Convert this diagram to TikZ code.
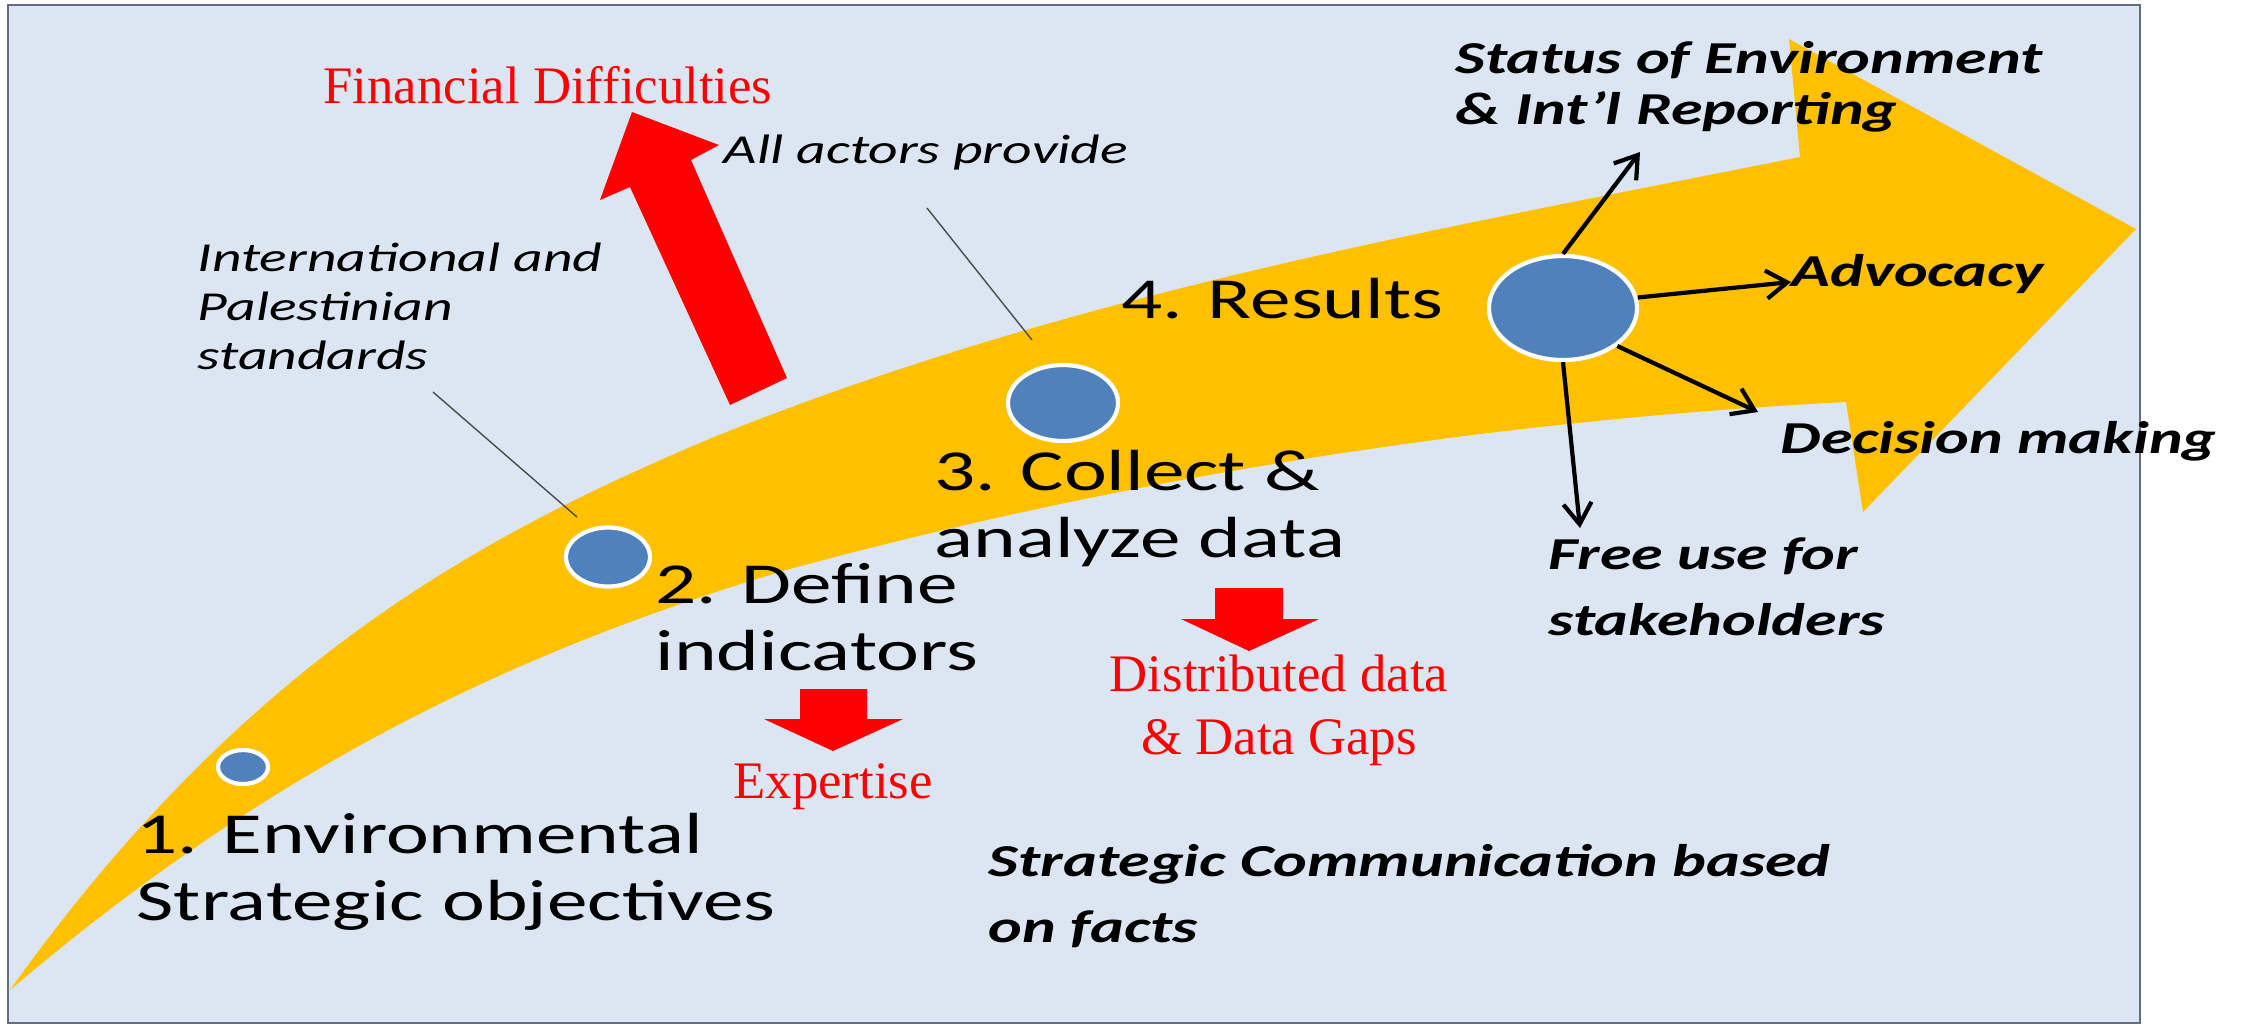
\documentclass[tikz,border=0pt]{standalone}
\usepackage{fontspec}
\usepackage{xcolor}
\usepackage{tikz}
\usetikzlibrary{arrows.meta, positioning, shapes.geometric}
\newfontfamily\stepfont{Carlito}[FakeStretch=1.4]
\newfontfamily\redfont{Liberation Serif}
\definecolor{mygold}{RGB}{255, 192, 0}
\definecolor{myblue}{RGB}{79, 129, 189}
\definecolor{myred}{RGB}{255, 0, 0}
\definecolor{mybg}{RGB}{220, 230, 242}
\definecolor{myframe}{RGB}{95, 110, 130}

\begin{document}
\begin{tikzpicture}[x=0.01cm, y=-0.01cm,
    dot/.style={ellipse, draw=white, line width=1.2pt, fill=myblue, inner sep=0},
    steplabel/.style={inner sep=0, anchor=base west, align=left, font=\stepfont\fontsize{16.5}{19}\selectfont},
    note/.style={inner sep=0, anchor=base west, align=left, font=\stepfont\itshape\fontsize{11.7}{13.9}\selectfont},
    outcome/.style={inner sep=0, anchor=base west, align=left, font=\stepfont\bfseries\itshape\fontsize{13}{14.5}\selectfont},
    problem/.style={inner sep=0, anchor=base, align=center, text=myred, font=\redfont\fontsize{15}{17.9}\selectfont},
    outarrow/.style={-{Straight Barb[length=6pt, width=8pt]}, line width=1.2pt},
    leader/.style={black!70, line width=0.4pt}]
    \useasboundingbox (0,0) rectangle (2244,1026);

    % 背景
    \fill[mybg] (8,5) rectangle (2140,1023);
    \draw[myframe, line width=0.6pt] (8,5) rectangle (2140,1023);

    % 黄色大箭头
    \fill[mygold] (10,990) .. controls (245,661) and (479,536) .. (714,437)
        .. controls (1074,292) and (1440,229) .. (1800,157)
        -- (1789,39) -- (2136,229) -- (1863,512) -- (1846,402)
        .. controls (1496,420) and (1136,475) .. (786,570)
        .. controls (526,648) and (280,760) .. (10,990) -- cycle;

    % 引线
    \coordinate (n2a) at (433,392);
    \coordinate (n2b) at (577,517);
    \coordinate (n3a) at (927,208);
    \coordinate (n3b) at (1032,340);
    \draw[leader] (n2a) -- (n2b);
    \draw[leader] (n3a) -- (n3b);

    % 圆点
    \node[dot, minimum width=0.50cm, minimum height=0.34cm] (c1) at (243,767) {};
    \node[dot, minimum width=0.84cm, minimum height=0.59cm] (c2) at (608,557) {};
    \node[dot, minimum width=1.10cm, minimum height=0.76cm] (c3) at (1063,403) {};
    \node[dot, minimum width=1.48cm, minimum height=1.04cm] (c4) at (1563,308) {};

    % 步骤 (base = 末行基线)
    \node[steplabel] (s1) at (136,920) {1. Environmental\\Strategic objectives};
    \node[steplabel] (s2) at (655,670) {2. Define\\indicators};
    \node[steplabel] (s3) at (934,557) {3. Collect \&\\analyze data};
    \node[steplabel] (s4) at (1121,318) {4. Results};

    % 说明
    \node[note] (n2) at (197,369) {International and\\Palestinian\\standards};
    \node[note] (n3) at (723,163) {All actors provide};

    % 结果
    \node[outcome] (o1) at (1455,124) {Status of Environment\\\& Int’l Reporting};
    \node[outcome] (o2) at (1791,286) {Advocacy};
    \node[outcome] (o3) at (1780,453) {Decision making};
    \node[outcome] (o4) at (1548,635) {Free use for\\[4pt]stakeholders};
    \node[outcome] (o5) at (988,942) {Strategic Communication based\\[4pt]on facts};

    \coordinate (t1) at (1640,152);
    \coordinate (t2) at (1791,282);
    \coordinate (t3) at (1758,412);
    \coordinate (t4) at (1580,528);
    \draw[outarrow] (c4.north) -- (t1);
    \draw[outarrow] (c4.8) -- (t2);
    \draw[outarrow] (c4.-35) -- (t3);
    \draw[outarrow] (c4.south) -- (t4);

    % 困难
    \fill[myred] (632,112) -- (719,145) -- (691,160) -- (787,378) -- (730,405) -- (630,187) -- (600,200) -- cycle;
    \fill[myred] (800,689) -- (867,689) -- (867,719) -- (903,719) -- (833,751) -- (764,719) -- (800,719) -- cycle;
    \fill[myred] (1215,588) -- (1283,588) -- (1283,619) -- (1319,619) -- (1249,651) -- (1181,619) -- (1215,619) -- cycle;
    \node[problem] (p1) at (548,103) {Financial Difficulties};
    \node[problem] (p2) at (833,798) {Expertise};
    \node[problem] (p3) at (1279,754) {Distributed data\\\& Data Gaps};
\end{tikzpicture}
\end{document}
